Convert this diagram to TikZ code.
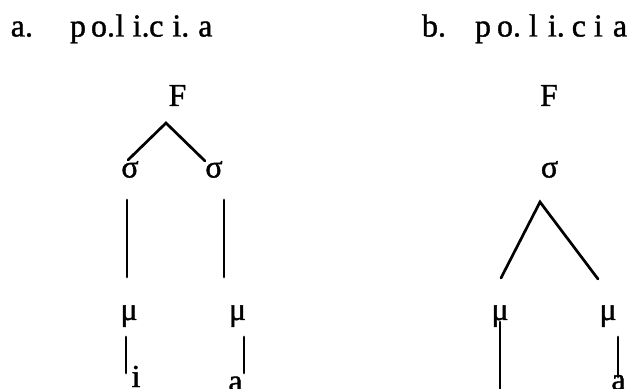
\documentclass[tikz,border=0pt]{standalone}
\usepackage{fontspec}
\setmainfont[FakeBold=1.2]{Liberation Serif}
\begin{document}
\begin{tikzpicture}[x=0.5pt,y=-0.5pt,
  lbl/.style={inner sep=0pt, outer sep=0pt, font=\fontsize{16}{19}\selectfont, anchor=base},
  edge/.style={line width=1.35pt, line cap=round, line join=miter}]
\useasboundingbox (0,0) rectangle (642,389);

% headings
\node[lbl,anchor=base west] (la) at (10.8,36.5) {a.};
\node[lbl,anchor=base west] (wa) at (70,36.5)
  {p\hspace{2.5pt}o.\hspace{0.2pt}l\hspace{4.2pt}i.\hspace{-0.2pt}c\hspace{4.5pt}i.\hspace{4.5pt}a};
\node[lbl,anchor=base west] (lb) at (422,36.5) {b.};
\node[lbl,anchor=base west] (wb) at (475,36.5)
  {p\hspace{3pt}o.\hspace{4pt}l\hspace{5pt}i.\hspace{3.5pt}c\hspace{4pt}i\hspace{5pt}a};

% tree (a): foot over two syllables
\node[lbl] (Fa) at (177.5,106) {F};
\node[lbl] (s1) at (130,177.5) {σ};
\node[lbl] (s2) at (214,177.5) {σ};
\node[lbl] (m1) at (129,320) {μ};
\node[lbl] (m2) at (237.5,320) {μ};
\node[lbl] (i1) at (136,387) {i};
\node[lbl] (a1) at (235.5,391.5) {a};

\coordinate (Fa-l) at (128,160);
\coordinate (Fa-top) at (166,123);
\coordinate (Fa-r) at (205,161);
\coordinate (s1-t) at (127,200);
\coordinate (s1-b) at (127,277);
\coordinate (s2-t) at (224,200);
\coordinate (s2-b) at (224,277);
\coordinate (m1-t) at (126,337);
\coordinate (m1-b) at (126,373);
\coordinate (m2-t) at (244,337);
\coordinate (m2-b) at (244,373);

\draw[edge] (Fa-l) -- (Fa-top) -- (Fa-r);
\draw[edge] (s1-t) -- (s1-b);
\draw[edge] (s2-t) -- (s2-b);
\draw[edge] (m1-t) -- (m1-b);
\draw[edge] (m2-t) -- (m2-b);

% tree (b): foot over one heavy syllable
\node[lbl] (Fb) at (549,106) {F};
\node[lbl] (sb) at (549.5,177.5) {σ};
\node[lbl] (mb1) at (500,320) {μ};
\node[lbl] (mb2) at (608,320) {μ};
\node[lbl] (ab) at (618.5,390) {a};

\coordinate (sb-l) at (501,278);
\coordinate (sb-top) at (540,202);
\coordinate (sb-r) at (598,279);
\coordinate (mb1-t) at (500,322);
\coordinate (mb1-b) at (500,395);
\coordinate (mb2-t) at (618,337);
\coordinate (mb2-b) at (618,377);

\draw[edge] (sb-l) -- (sb-top) -- (sb-r);
\draw[edge] (mb1-t) -- (mb1-b);
\draw[edge] (mb2-t) -- (mb2-b);
\end{tikzpicture}
\end{document}
